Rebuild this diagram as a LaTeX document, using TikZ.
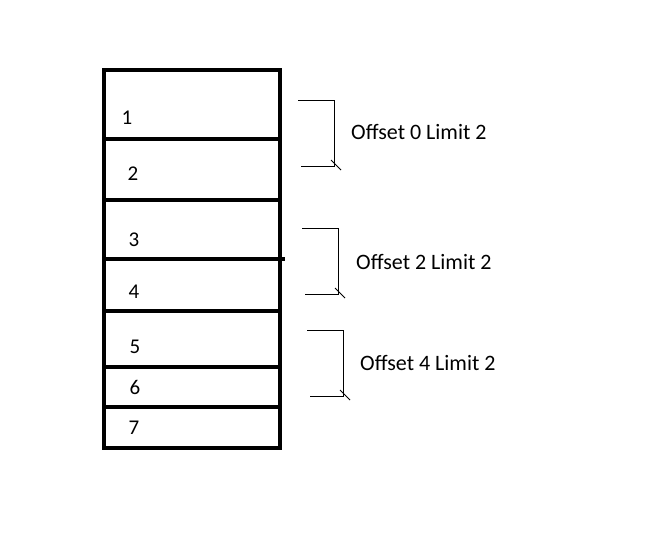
\documentclass[tikz,border=0pt]{standalone}
\usepackage{fontspec}
\setmainfont{Carlito}
\begin{document}
\begin{tikzpicture}[x=1pt,y=-1pt,
        rowline/.style={line width=4.8pt},
        bracketline/.style={line width=0.9pt},
        numlbl/.style={inner sep=0pt,font=\fontsize{21}{25}\selectfont},
        rangelbl/.style={inner sep=0pt,anchor=west,font=\fontsize{22}{26}\selectfont}]
        \useasboundingbox (0,0) rectangle (656,538);

        % the table of rows
        \draw[rowline] (104,70) rectangle (280,448);
        \draw[rowline] (104,139) -- (280,139);
        \draw[rowline] (104,200) -- (280,200);
        \draw[rowline] (104,259) -- (285,259);
        \draw[rowline] (104,311) -- (280,311);
        \draw[rowline] (104,367) -- (280,367);
        \draw[rowline] (104,407) -- (280,407);

        \node[numlbl] (r1) at (127,118) {1};
        \node[numlbl] (r2) at (133,174) {2};
        \node[numlbl] (r3) at (134,240) {3};
        \node[numlbl] (r4) at (134,292) {4};
        \node[numlbl] (r5) at (135,347) {5};
        \node[numlbl] (r6) at (135,387) {6};
        \node[numlbl] (r7) at (134,428) {7};

        % first page
        \coordinate (p1top) at (298,100);
        \coordinate (p1cor) at (334,100);
        \coordinate (p1end) at (334,166);
        \coordinate (p1bot) at (301,166);
        \draw[bracketline] (p1top) -- (p1cor) -- (p1end) -- (p1bot);
        \draw[bracketline] (331,160) -- (341,170);
        \node[rangelbl] (page1) at (351,132) {Offset 0 Limit 2};

        % second page
        \coordinate (p2top) at (302,228);
        \coordinate (p2cor) at (338,228);
        \coordinate (p2end) at (338,294);
        \coordinate (p2bot) at (305,294);
        \draw[bracketline] (p2top) -- (p2cor) -- (p2end) -- (p2bot);
        \draw[bracketline] (335,288) -- (345,298);
        \node[rangelbl] (page2) at (356,262) {Offset 2 Limit 2};

        % third page
        \coordinate (p3top) at (307,330);
        \coordinate (p3cor) at (343,330);
        \coordinate (p3end) at (343,396);
        \coordinate (p3bot) at (310,396);
        \draw[bracketline] (p3top) -- (p3cor) -- (p3end) -- (p3bot);
        \draw[bracketline] (340,390) -- (350,400);
        \node[rangelbl] (page3) at (360,363) {Offset 4 Limit 2};
\end{tikzpicture}
\end{document}
